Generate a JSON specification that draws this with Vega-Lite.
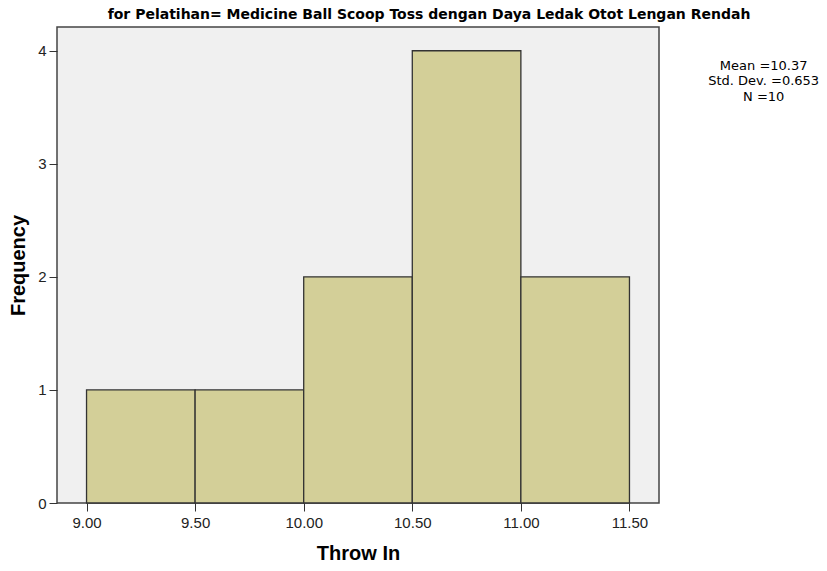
{
  "$schema": "https://vega.github.io/schema/vega-lite/v6.json",
  "autosize": "none",
  "width": 602,
  "height": 476,
  "padding": {"left": 57, "top": 27, "right": 168, "bottom": 68},
  "background": "#ffffff",
  "config": {
    "view": {"fill": "#f0f0f0", "stroke": "#444444", "strokeWidth": 1.5},
    "font": "Liberation Sans"
  },
  "title": {
    "text": "for Pelatihan= Medicine Ball Scoop Toss dengan Daya Ledak Otot Lengan Rendah",
    "anchor": "middle",
    "frame": "group",
    "dx": 71,
    "dy": 14,
    "font": "DejaVu Sans",
    "fontSize": 14,
    "fontWeight": "bold",
    "color": "#000000",
    "baseline": "alphabetic",
    "offset": 8
  },
  "layer": [
    {
      "data": {
        "values": [
          {"bin_start": 9.0, "bin_end": 9.5, "count": 1},
          {"bin_start": 9.5, "bin_end": 10.0, "count": 1},
          {"bin_start": 10.0, "bin_end": 10.5, "count": 2},
          {"bin_start": 10.5, "bin_end": 11.0, "count": 4},
          {"bin_start": 11.0, "bin_end": 11.5, "count": 2}
        ]
      },
      "mark": {"type": "rect", "fill": "#d3cf98", "stroke": "#333333", "strokeWidth": 1.3},
      "encoding": {
        "x": {
          "field": "bin_start",
          "type": "quantitative",
          "scale": {"domain": [8.864, 11.636], "nice": false, "zero": false},
          "axis": {
            "title": "Throw In",
            "titleFont": "Liberation Sans",
            "titleFontSize": 20,
            "titleFontWeight": "bold",
            "titleColor": "#000000",
            "titlePadding": 13,
            "values": [9.0, 9.5, 10.0, 10.5, 11.0, 11.5],
            "format": ".2f",
            "labelFontSize": 15,
            "labelColor": "#222222",
            "labelPadding": 4,
            "tickSize": 8,
            "tickColor": "#333333",
            "domain": false,
            "grid": false
          }
        },
        "x2": {"field": "bin_end"},
        "y": {
          "field": "count",
          "type": "quantitative",
          "scale": {"domain": [0, 4.21], "nice": false},
          "axis": {
            "title": "Frequency",
            "titleFont": "Liberation Sans",
            "titleFontSize": 20,
            "titleFontWeight": "bold",
            "titleColor": "#000000",
            "titlePadding": 9,
            "values": [0, 1, 2, 3, 4],
            "format": "d",
            "labelFontSize": 15,
            "labelColor": "#222222",
            "labelPadding": 3,
            "tickSize": 8,
            "tickColor": "#333333",
            "domain": false,
            "grid": false
          }
        },
        "y2": {"datum": 0}
      }
    },
    {
      "data": {"values": [{"label": "stats"}]},
      "mark": {
        "type": "text",
        "text": ["Mean =10.37", "Std. Dev. =0.653", "N =10"],
        "lineHeight": 15.5,
        "align": "center",
        "baseline": "alphabetic",
        "font": "DejaVu Sans",
        "fontSize": 13,
        "fontWeight": "normal",
        "color": "#000000",
        "clip": false
      },
      "encoding": {
        "x": {"datum": 12.118, "type": "quantitative"},
        "y": {"datum": 3.832, "type": "quantitative"}
      }
    }
  ]
}
